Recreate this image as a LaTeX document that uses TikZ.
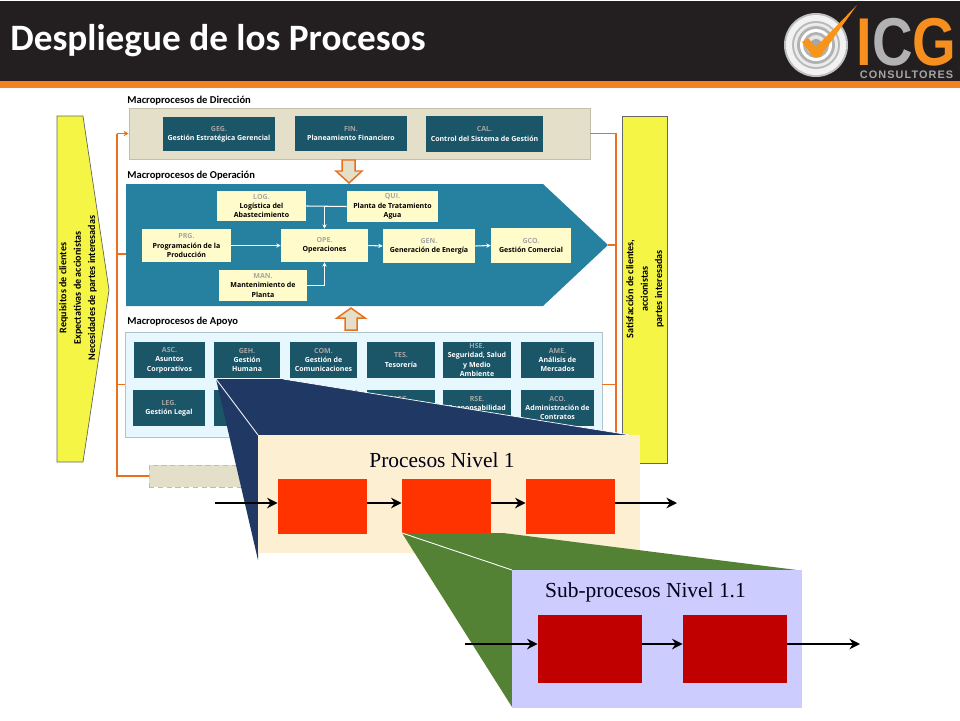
\documentclass[tikz,border=0pt]{standalone}
\usepackage{fontspec}
\setmainfont{Carlito}
\newfontfamily\boxfont{Open Sans}
\newfontfamily\serifont{Liberation Serif}
\newfontfamily\logofont{Liberation Sans}
\newfontfamily\consfont[LetterSpace=10]{Liberation Sans}
\usetikzlibrary{calc,arrows.meta}
\definecolor{barcol}{HTML}{231F20}
\definecolor{oracol}{HTML}{F58220}
\definecolor{linecol}{HTML}{E9701F}
\definecolor{sandcol}{HTML}{E3DFC9}
\definecolor{tealcol}{HTML}{1B5568}
\definecolor{bluecol}{HTML}{26809F}
\definecolor{creamcol}{HTML}{FFFBCB}
\definecolor{yelcol}{HTML}{F5F545}
\definecolor{navycol}{HTML}{1F3864}
\definecolor{greencol}{HTML}{548235}
\definecolor{peachcol}{HTML}{FDF0D2}
\newcommand{\sigla}[1]{\textcolor{gray!70}{#1}}
\tikzset{
    size/.style 2 args={minimum width=#1*0.02cm, minimum height=#2*0.02cm},
    darkbox/.style={fill=tealcol, text=white, inner sep=0pt, align=center, font=\boxfont\bfseries\fontsize{4}{5.3}\selectfont},
    lightbox/.style={fill=creamcol, text=black, inner sep=0pt, align=center, font=\boxfont\bfseries\fontsize{4}{5.3}\selectfont},
    head/.style={anchor=west, inner sep=0pt, font=\bfseries\fontsize{6}{6.5}\selectfont},
    sidetext/.style={rotate=90, align=center, inner sep=0pt, font=\bfseries\fontsize{5.75}{8.2}\selectfont},
    wline/.style={draw=white, line width=0.6pt},
    oline/.style={draw=linecol, line width=0.85pt},
    blockarrow/.style={fill=sandcol, draw=linecol, line width=0.85pt},
    flow/.style={line width=1.5pt, -{Stealth[length=6pt,width=6pt]}},
    bigtext/.style={inner sep=0pt, text=black!90!blue, font=\serifont\fontsize{12.2}{13}\selectfont}
}
\begin{document}
\begin{tikzpicture}[x=0.02cm,y=-0.02cm]
    \useasboundingbox (0,0) rectangle (960,720);

    % top bar
    \fill [barcol] (0,1) rectangle (960,81);
    \fill [oracol] (0,81) rectangle (960,88);
    \node (title) at (10,41) [anchor=west, text=white, inner sep=0pt, font=\bfseries\fontsize{21.2}{22}\selectfont] {Despliegue de los Procesos};

    % logo
    \foreach \r/\c in {32/gray!50, 30/gray!10, 24/gray!55, 22/gray!15, 19/gray!60, 16/white, 13/gray!60, 10/gray!20, 6/gray!70}
        {
            \fill [\c] (816,45) circle (\r);
        }
    \fill [oracol!85!yellow] (802,42) -- (808,38) -- (816,47) -- (857,5) -- (820,57) -- (813,57) -- cycle;
    \node (icg) at (906.5,42) [inner sep=0pt, xscale=0.83, transform shape, font=\logofont\bfseries\fontsize{38.5}{39}\selectfont] {\textcolor{oracol!90!yellow}{I}\textcolor{gray!60}{C}\textcolor{oracol!90!yellow}{G}};
    \node (cons) at (906.5,75) [text=gray!70, inner sep=0pt, font=\consfont\bfseries\fontsize{6.2}{6.5}\selectfont] {CONSULTORES};

    % side bars
    \fill [yelcol, draw=black!60, line width=0.4pt] (57,116) -- (83,116) -- (109,290) -- (83,462) -- (57,462) -- cycle;
    \fill [yelcol, draw=black!60, line width=0.4pt] (622,116) rectangle (667,463);
    \node (req) at (78,288) [sidetext] {Requisitos de clientes\\Expectativas de accionistas\\Necesidades de partes interesadas};
    \node (sat) at (645,289) [sidetext] {Satisfacción de clientes,\\accionistas\\partes interesadas};

    % macro groups
    \node (dirbox) at (359.5,133.5) [size={461}{51}, fill=sandcol, draw=sandcol!85!black, line width=0.3pt] {};
    \node (apobox) at (363.5,384.5) [size={477}{105}, fill=cyan!10, draw=cyan!25!gray!60, line width=0.4pt] {};
    \node (dashbox) at (205,476) [size={112}{22}, fill=sandcol, draw=sandcol!85!black, densely dashed, line width=0.3pt] {};
    \fill [bluecol] (126,184) -- (543,184) -- (608,245) -- (543,306) -- (126,306) -- cycle;
    \coordinate (optip) at (608,245);
    \coordinate (opleft) at (126,254);

    \node (hdir) at (127,101) [head] {Macroprocesos de Dirección};
    \node (hope) at (127,176) [head] {Macroprocesos de Operación};
    \node (hapo) at (127,322) [head] {Macroprocesos de Apoyo};

    % block arrows
    \draw [blockarrow] (342,160) -- (355,160) -- (355,171) -- (362,171) -- (349,183) -- (336,171) -- (342,171) -- cycle;
    \draw [blockarrow] (345,330) -- (357,330) -- (357,318) -- (365,318) -- (351,308) -- (337,318) -- (345,318) -- cycle;

    % orange lines
    \coordinate (tl) at (117,133.5);
    \coordinate (tr) at (616,133.5);
    \coordinate (br) at (616,440);
    \draw [oline] (dashbox.west) -| (tl);
    \draw [oline, -{Stealth[length=3pt,width=3pt]}] (tl) -- (dirbox.west);
    \draw [oline] (opleft) -- (117,254);
    \draw [oline] (apobox.west) -- (117,384.5);
    \draw [oline] (dirbox.east) -- (tr) -- (br);
    \draw [oline] (optip) -- (616,245);
    \draw [oline] (apobox.east) -- (616,384.5);

    % boxes
    \foreach \n/\x/\y/\w/\h/\t in {
        geg/219/134/112/34/{\sigla{GEG.}\\Gestión Estratégica Gerencial},
        fin/351/133.5/112/35/{\sigla{FIN.}\\Planeamiento Financiero},
        cal/484.5/134/117/36/{\sigla{CAL.}\\Control del Sistema de Gestión},
        asc/169.5/360/71/36/{\sigla{ASC.}\\Asuntos\\Corporativos},
        geh/247/360/66/36/{\sigla{GEH.}\\Gestión\\Humana},
        com/323.5/360/67/36/{\sigla{COM.}\\Gestión de\\Comunicaciones},
        tes/401/360/68/36/{\sigla{TES.}\\Tesorería},
        hse/477/360/68/36/{\sigla{HSE.}\\Seguridad, Salud\\y Medio\\Ambiente},
        ame/557.5/360/73/36/{\sigla{AME.}\\Análisis de\\Mercados},
        leg/169/408/72/36/{\sigla{LEG.}\\Gestión Legal},
        asg/401/408/68/36/{\sigla{ASG.}\\ \\ },
        rse/477/408/68/36/{\sigla{RSE.}\\Responsabilidad\\ },
        aco/557.5/408/73/36/{\sigla{ACO.}\\Administración de\\Contratos}}
        {
            \node (\n) at (\x,\y) [darkbox, size={\w}{\h}] {\t};
        }
    \node (blank1) at (247,408) [darkbox, size={66}{36}] {};
    \node (blank2) at (323.5,408) [darkbox, size={67}{36}] {};

    \foreach \n/\x/\y/\w/\h/\t in {
        log/261.5/206/89/30/{\sigla{LOG.}\\Logística del\\Abastecimiento},
        qui/392.5/206.5/91/31/{\sigla{QUI.}\\Planta de Tratamiento\\Agua},
        prg/186.5/245.5/89/33/{\sigla{PRG.}\\Programación de la\\Producción},
        ope/324.5/245.5/87/33/{\sigla{OPE.}\\Operaciones},
        gen/429/246/92/34/{\sigla{GEN.}\\Generación de Energía},
        gco/531/245.5/80/35/{\sigla{GCO.}\\Gestión Comercial},
        man/263/285.5/88/31/{\sigla{MAN.}\\Mantenimiento de\\Planta}}
        {
            \node (\n) at (\x,\y) [lightbox, size={\w}{\h}] {\t};
        }

    % white links
    \draw [wline] (log.east) -- (qui.west);
    \draw [wline, -{Stealth[length=2.5pt,width=2.5pt]}] (ope.north |- log.east) -- (ope.north);
    \draw [wline, -{Stealth[length=2.5pt,width=2.5pt]}] (man.east) -| (ope.south);
    \draw [wline, -{Stealth[length=2.5pt,width=2.5pt]}] (prg.east) -- (ope.west);
    \draw [wline, -{Stealth[length=2.5pt,width=2.5pt]}] (ope.east) -- (gen.west);
    \draw [wline, -{Stealth[length=2.5pt,width=2.5pt]}] (gen.east) -- (gco.west);

    % level 1
    \coordinate (zoomA) at (216,379);
    \fill [navycol] (zoomA) -- (283,379) -- (630,435) -- (258,435) -- (258,560) -- cycle;
    \draw [white, line width=0.5pt] (zoomA) -- (258,435);
    \draw [white, line width=0.4pt] (283,379) -- (630,435);
    \node (lev1) at (449,494) [size={382}{118}, fill=peachcol] {};
    \node (lev1txt) at (442,460) [bigtext] {Procesos Nivel 1};
    \foreach \n/\x in {pa/322.5, pb/446.5, pc/570.5}
        {
            \node (\n) at (\x,506.5) [size={89}{55}, fill={rgb,255:red,255;green,51;blue,0}] {};
        }
    \coordinate (pin) at (215,503);
    \coordinate (pout) at (677,503);
    \draw [flow] (pin) -- ($(pa.west) + (0,-3.5)$);
    \draw [flow] ($(pa.east) + (0,-3.5)$) -- ($(pb.west) + (0,-3.5)$);
    \draw [flow] ($(pb.east) + (0,-3.5)$) -- ($(pc.west) + (0,-3.5)$);
    \draw [flow] ($(pc.east) + (0,-3.5)$) -- (pout);

    % level 2
    \coordinate (zoomB) at (402,533);
    \fill [greencol] (zoomB) -- (503,533) -- (797,570) -- (512,570) -- (512,707) -- cycle;
    \draw [white, line width=0.5pt] (zoomB) -- (512,570);
    \node (lev2) at (657,639) [size={290}{138}, fill={rgb,255:red,204;green,204;blue,255}] {};
    \node (lev2txt) at (645.5,592) [bigtext] {Sub-procesos Nivel 1.1};
    \foreach \n/\x in {sa/590, sb/735}
        {
            \node (\n) at (\x,649) [size={104}{68}, fill={rgb,255:red,192;green,0;blue,0}] {};
        }
    \coordinate (sin) at (465,644);
    \coordinate (sout) at (860,644);
    \draw [flow] (sin) -- ($(sa.west) + (0,-5)$);
    \draw [flow] ($(sa.east) + (0,-5)$) -- ($(sb.west) + (0,-5)$);
    \draw [flow] ($(sb.east) + (0,-5)$) -- (sout);
\end{tikzpicture}
\end{document}
